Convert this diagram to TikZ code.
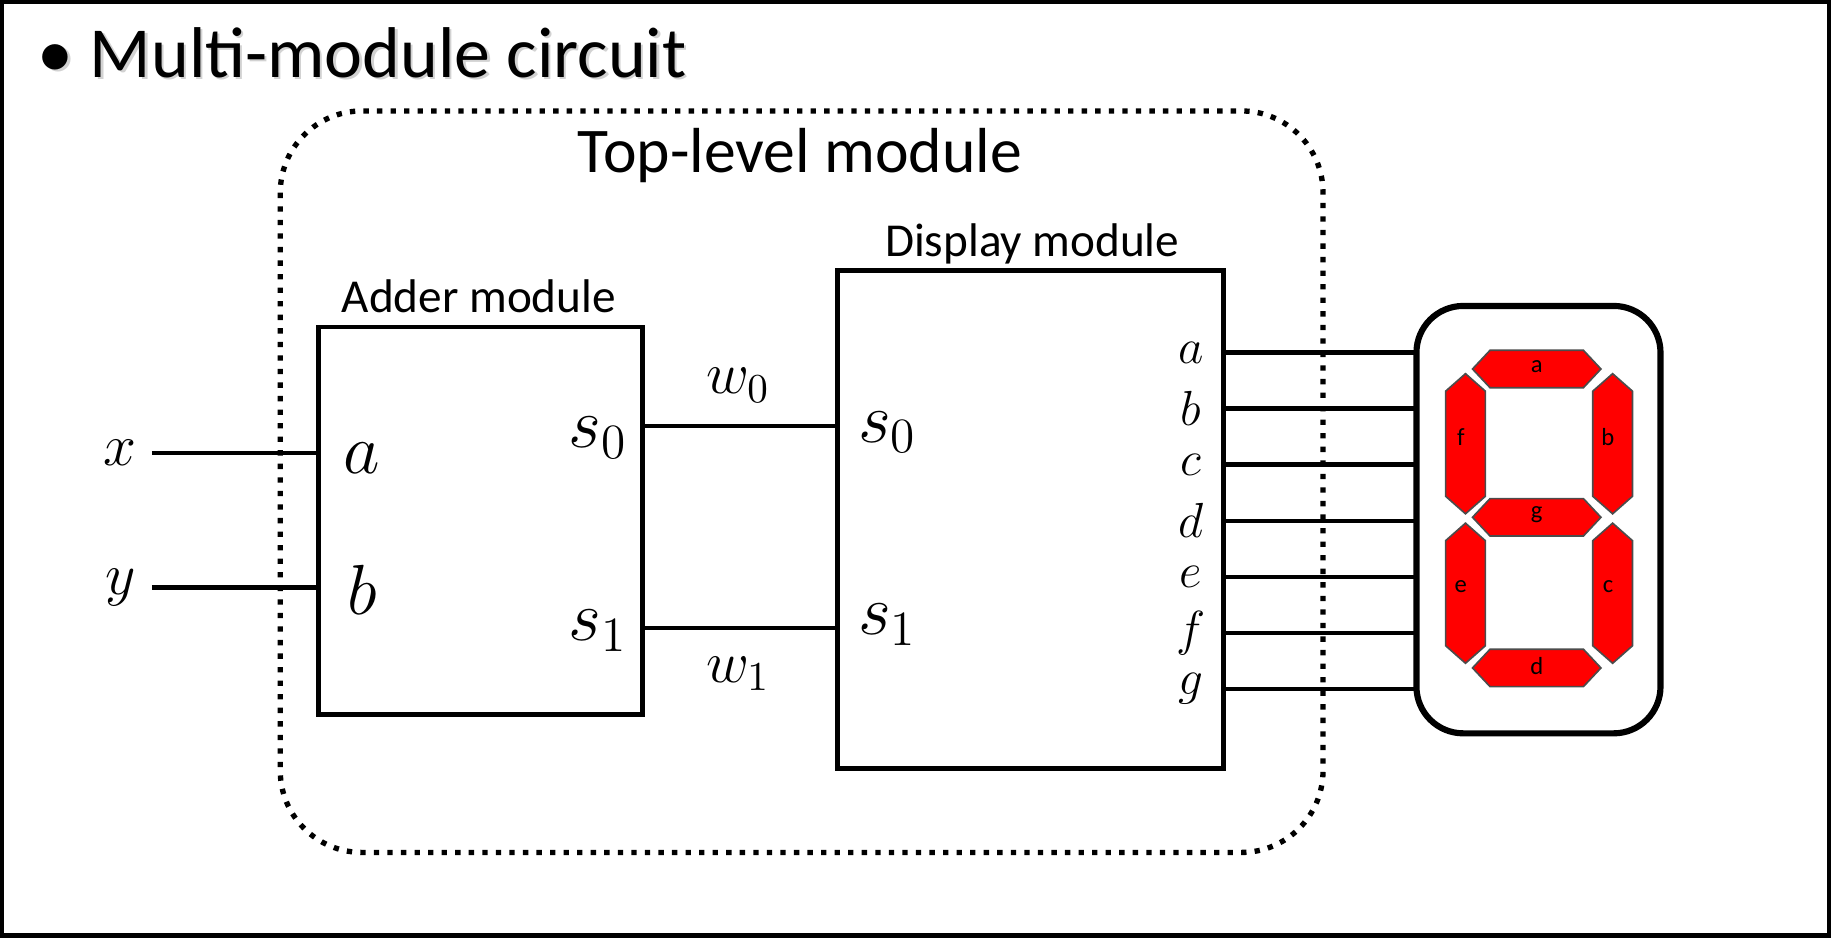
\documentclass[tikz,border=0pt]{standalone}
\usepackage{fontspec}
\setmainfont{Carlito}
\usetikzlibrary{shapes.geometric}
\begin{document}
\begin{tikzpicture}[x=0.01cm,y=-0.01cm,
  box/.style={draw,line width=1.2pt},
  wire/.style={line width=1.1pt},
  ml/.style={font=\fontsize{14}{16}\selectfont},
  lbl/.style={font=\fontsize{11.5}{13}\selectfont},
  seg/.style={fill=red,draw=black!70,line width=0.4pt},
  sl/.style={font=\fontsize{6}{7}\selectfont}]
\useasboundingbox (0,0) rectangle (1568,803);
\draw[line width=1.5pt] (1,1) rectangle (1567,802);
\node[anchor=west,font=\fontsize{17.5}{20}\selectfont,text=gray!35] (tsh) at (22,47) {• Multi-module circuit};
\node[anchor=west,font=\fontsize{17.5}{20}\selectfont] (title) at (20,45) {• Multi-module circuit};
\draw[dotted,line width=1.3pt,rounded corners=0.7cm] (240,95) rectangle (1133,730);
\node[font=\fontsize{15.5}{18}\selectfont] (top) at (685,133) {Top-level module};
\draw[box] (273,280) rectangle (550,612);
\node[lbl] (addl) at (410,254) {Adder module};
\draw[box] (717,232) rectangle (1048,658);
\node[lbl] (displ) at (884,209) {Display module};
\node[ml] (x) at (103,388) {$x$};
\node[ml] (y) at (103,503) {$y$};
\coordinate (ai) at (273,388); \coordinate (bi) at (273,503);
\coordinate (xs) at (130,388); \coordinate (ys) at (130,503);
\draw[wire] (xs) -- (ai);
\draw[wire] (ys) -- (bi);
\node[font=\fontsize{17}{20}\selectfont] (ina) at (310,392) {$a$};
\node[font=\fontsize{17}{20}\selectfont] (inb) at (310,505) {$b$};
\node[font=\fontsize{17}{20}\selectfont] (s0) at (512,375) {$s_0$};
\node[font=\fontsize{17}{20}\selectfont] (s1) at (512,540) {$s_1$};
\node[font=\fontsize{17}{20}\selectfont] (ds0) at (760,370) {$s_0$};
\node[font=\fontsize{17}{20}\selectfont] (ds1) at (760,535) {$s_1$};
\coordinate (w0a) at (550,365); \coordinate (w0b) at (717,365);
\coordinate (w1a) at (550,538); \coordinate (w1b) at (717,538);
\draw[line width=0.9pt] (w0a) -- (w0b);
\draw[line width=0.9pt] (w1a) -- (w1b);
\node[ml] (w0) at (632,330) {$w_0$};
\node[ml] (w1) at (632,577) {$w_1$};
\foreach \n/\yy in {a/302,b/350,c/398,d/446,e/494,f/542,g/590}{
  \node[font=\fontsize{12.5}{14}\selectfont,inner sep=0pt] (o\n) at (1020,\yy) {$\n$};
  \coordinate (p\n) at (1048,\yy); \coordinate (q\n) at (1215,\yy);
  \draw[wire] (p\n) -- (q\n);
}
\draw[line width=1.5pt,rounded corners=0.4cm] (1213,262) rectangle (1422,628);
\foreach \n/\cx/\cy in {a/1316/316,g/1316/443,d/1316/572}{
  \draw[seg] (\cx-55,\cy) -- (\cx-40,\cy-16) -- (\cx+40,\cy-16) -- (\cx+55,\cy) -- (\cx+40,\cy+16) -- (\cx-40,\cy+16) -- cycle;
  \node[sl] (s\n) at (\cx,\cy-2) {\n};
}
\foreach \n/\cx/\cy in {f/1255/380,b/1381/380,e/1255/508,c/1381/508}{
  \draw[seg] (\cx,\cy-60) -- (\cx+17,\cy-45) -- (\cx+17,\cy+45) -- (\cx,\cy+60) -- (\cx-17,\cy+45) -- (\cx-17,\cy-45) -- cycle;
  \node[sl] (s\n) at (\cx-4,\cy-6) {\n};
}
\end{tikzpicture}
\end{document}
